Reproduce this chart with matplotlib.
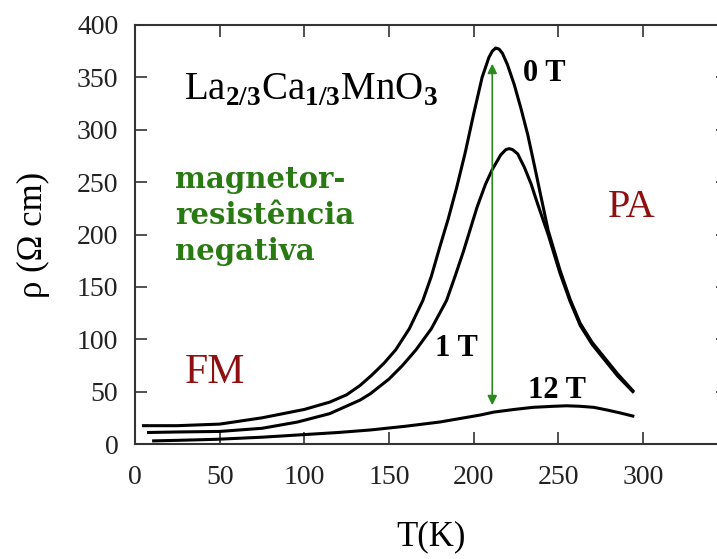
import matplotlib
matplotlib.use('Agg')
import matplotlib.pyplot as plt

plt.rcParams['font.family'] = ['Liberation Serif', 'DejaVu Serif']
plt.rcParams['mathtext.fontset'] = 'custom'
plt.rcParams['mathtext.rm'] = 'Liberation Serif'
plt.rcParams['mathtext.bf'] = 'Liberation Serif:bold'

# resistivity curves
T_0T = [5, 25, 50, 75, 100, 115, 125, 133, 140, 147, 154, 162, 170, 175, 180, 185, 190,
        195, 200, 205, 209, 211, 213, 215, 217, 220, 224, 228, 232, 236, 239, 244, 251,
        257, 263, 270, 277, 285, 294]
rho_0T = [17.5, 17.5, 19, 25, 33, 40, 47, 56, 66, 77, 90, 110, 137, 160, 188, 215, 245,
          278, 315, 350, 369, 375, 378, 377, 373, 362, 343, 320, 295, 265, 242, 204, 166,
          138, 115, 97, 83, 67, 51]

T_1T = [8, 25, 50, 75, 96, 115, 133, 139, 150, 158, 166, 175, 184, 189, 194, 198, 202,
        207, 211, 216, 219, 221, 223, 226, 230, 234, 237, 241, 244, 251, 257, 263, 270,
        277, 285, 294]
rho_1T = [11, 11.5, 12, 15, 21, 29, 42, 48, 62, 75, 90, 110, 137, 160, 184, 205, 226,
          248, 262, 276, 281, 282, 281, 277, 264, 248, 233, 214, 200, 163, 136, 113, 95,
          81, 65, 50]

T_12T = [11, 25, 48, 75, 96, 120, 139, 160, 180, 204, 212, 224, 235, 247, 255, 263, 271,
         279, 287, 294]
rho_12T = [3, 3.5, 4.5, 6.5, 8.6, 11, 13.4, 17, 21, 27.7, 30.5, 33, 35, 36, 36.5, 36, 35,
           32.4, 29.5, 26.7]

xticks = [0, 50, 100, 150, 200, 250, 300]
yticks = [0, 50, 100, 150, 200, 250, 300, 350, 400]

fig = plt.figure(figsize=(7.17, 5.59), dpi=100)
ax = fig.add_axes([0.1883, 0.2057, 0.8265, 0.7496])

for T, r in [(T_0T, rho_0T), (T_1T, rho_1T), (T_12T, rho_12T)]:
    ax.plot(T, r, color='black', lw=2.2, solid_joinstyle='round')

ax.set_xlim(0, 350)
ax.set_ylim(0, 400)
ax.set_xticks(xticks)
ax.set_yticks(yticks)
ax.tick_params(direction='in', length=8.5, width=1.1, top=True, right=True,
               labelsize=20, colors='#222222')
ax.tick_params(axis='x', pad=15)
ax.tick_params(axis='y', pad=12)
for s in ax.spines.values():
    s.set_linewidth(1.5)
    s.set_color('#333333')

ax.set_xlabel('T(K)', fontsize=25, labelpad=22)
ax.set_ylabel('ρ (Ω cm)', fontsize=25, labelpad=19)

# green arrow: negative magnetoresistance
ax.annotate('', xy=(211, 363), xytext=(211, 37),
            arrowprops=dict(arrowstyle='<|-|>', color='#2a8a1c', lw=1.2,
                            mutation_scale=14, shrinkA=0, shrinkB=0))

ax.text(104, 338, r'La$_{\mathbf{2/3}}$Ca$_{\mathbf{1/3}}$MnO$_{\mathbf{3}}$',
        fontsize=28, ha='center', va='center')
ax.text(23.6, 218.5, 'magnetor-\nresistência\nnegativa', fontsize=21,
        family='DejaVu Serif', fontweight='bold', color='#2a7a14',
        ha='left', va='center', linespacing=1.3)
ax.text(293.6, 226, 'PA', fontsize=29, color='#8e1010', ha='center', va='center')
ax.text(47.3, 67.7, 'FM', fontsize=30, color='#8e1010', ha='center', va='center')
ax.text(241.6, 354, '0 T', fontsize=22, fontweight='bold', ha='center', va='center')
ax.text(190, 91.6, '1 T', fontsize=22, fontweight='bold', ha='center', va='center')
ax.text(249, 51.5, '12 T', fontsize=22, fontweight='bold', ha='center', va='center')

fig.savefig('out.png', dpi=100, facecolor='white')
